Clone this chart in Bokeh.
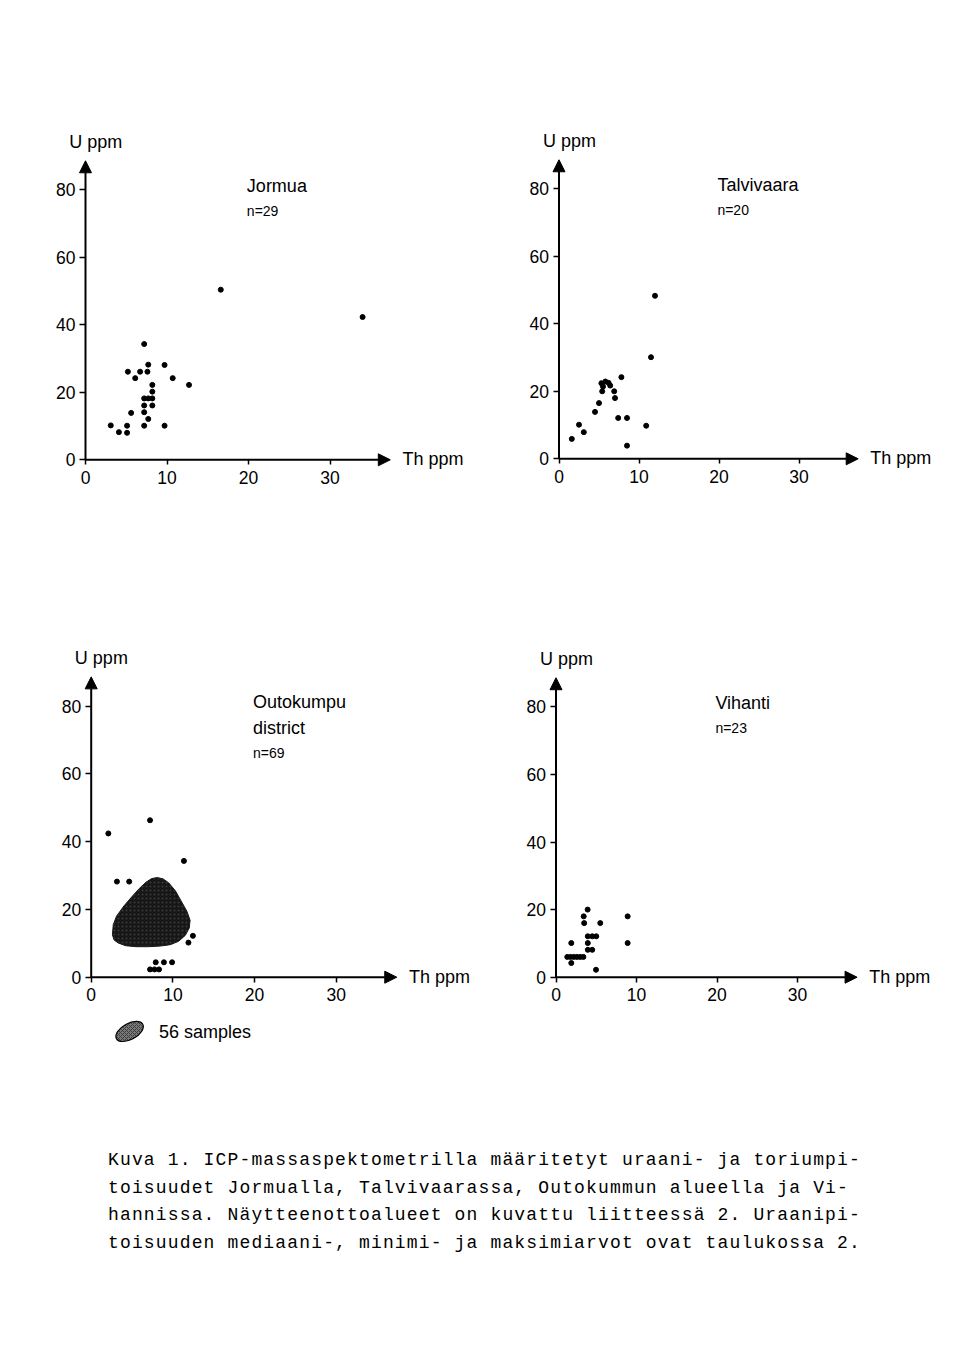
from bokeh.plotting import figure
from bokeh.layouts import column, row
from bokeh.models import Arrow, NormalHead, Label, FixedTicker, Div
from bokeh.embed import file_html
from bokeh.resources import INLINE

# ---------------- data ----------------
jormua_th = [3.1, 4.1, 5.1, 5.1, 5.6, 5.2, 6.1, 6.7, 7.2, 7.7, 7.6, 8.2, 8.2, 7.2, 7.7,
             8.2, 7.2, 8.2, 7.2, 7.7, 7.2, 9.7, 10.7, 12.7, 9.7, 16.6, 34.0]
jormua_u = [10.2, 8.2, 10.1, 8.0, 13.9, 26.1, 24.2, 26.1, 34.3, 28.2, 26.1, 22.2, 20.2, 18.2, 18.2,
            18.2, 16.1, 16.1, 14.1, 12.1, 10.1, 28.1, 24.2, 22.2, 10.1, 50.4, 42.3]

talvi_th = [1.6, 2.5, 3.1, 4.5, 5.0, 5.4, 5.3, 5.8, 6.2, 6.4, 5.5, 6.9, 7.0, 7.8, 7.4,
            8.5, 10.9, 8.5, 12.0, 11.5]
talvi_u = [5.9, 10.1, 7.9, 13.9, 16.5, 20.0, 22.4, 22.9, 22.5, 21.7, 21.4, 20.0, 18.0, 24.2, 12.1,
           12.1, 9.8, 3.9, 48.3, 30.1]

outo_th = [2.1, 7.2, 11.35, 3.15, 4.65, 12.45, 11.9, 7.9, 8.9, 9.9, 7.2, 7.75, 8.3]
outo_u = [42.4, 46.3, 34.3, 28.2, 28.2, 12.2, 10.2, 4.4, 4.4, 4.4, 2.3, 2.3, 2.3]

# outline of the shaded field holding 56 Outokumpu samples
blob_th = [2.6, 2.7, 3.1, 4.0, 5.0, 5.9, 6.7, 7.4, 8.1, 8.8, 9.5, 10.3, 11.0, 11.7, 12.1,
           12.0, 11.5, 10.7, 9.7, 8.5, 7.0, 5.5, 4.2, 3.3, 2.8]
blob_u = [12.5, 15.5, 18.0, 21.0, 23.8, 26.2, 28.0, 29.1, 29.4, 29.0, 27.8, 25.5, 22.5, 19.5, 16.8,
          14.5, 12.3, 10.6, 9.6, 9.2, 9.0, 9.0, 9.3, 10.1, 11.0]

vihanti_th = [3.93, 3.44, 8.9, 3.5, 5.5, 3.95, 4.5, 5.0, 1.9, 3.95, 8.9, 3.95, 4.5,
              1.4, 1.8, 2.2, 2.6, 3.0, 3.4, 1.9, 4.97]
vihanti_u = [20.0, 18.0, 18.0, 16.0, 16.0, 12.1, 12.1, 12.1, 10.1, 10.1, 10.1, 8.1, 8.1,
             6.0, 6.0, 6.0, 6.0, 6.0, 6.0, 4.2, 2.2]

x_ticks = [0, 10, 20, 30]
y_ticks = [0, 20, 40, 60, 80]

caption_lines = [
    "Kuva 1. ICP-massaspektometrilla määritetyt uraani- ja toriumpi-",
    "toisuudet Jormualla, Talvivaarassa, Outokummun alueella ja Vi-",
    "hannissa. Näytteenottoalueet on kuvattu liitteessä 2. Uraanipi-",
    "toisuuden mediaani-, minimi- ja maksimiarvot ovat taulukossa 2.",
]

# ---------------- styling / layout ----------------
FONT = "Liberation Sans"
AX_X_END = 37.4
AX_Y_END = 88.6


def style_axis(ax, ticks, bounds, tick_out, standoff):
    ax.fixed_location = 0
    ax.bounds = bounds
    ax.ticker = FixedTicker(ticks=ticks)
    ax.axis_line_color = None
    ax.major_tick_line_color = "black"
    ax.major_tick_line_width = 1.5
    ax.major_tick_out = tick_out
    ax.major_tick_in = 0
    ax.minor_tick_line_color = None
    ax.major_label_text_font = FONT
    ax.major_label_text_font_size = "17.5px"
    ax.major_label_text_color = "black"
    ax.major_label_standoff = standoff


def make_panel(width, height, origin, scale, names, n_text, th, u):
    ox, oy = origin
    sx, sy = scale
    x0 = -ox / sx
    x1 = x0 + width / sx
    y1 = oy / sy
    y0 = y1 - height / sy
    p = figure(width=width, height=height, x_range=(x0, x1), y_range=(y0, y1),
               output_backend="svg", toolbar_location=None, tools="", min_border=0)
    p.title.visible = False
    p.outline_line_color = None
    p.xgrid.visible = False
    p.ygrid.visible = False
    p.background_fill_color = "white"
    p.border_fill_color = "white"

    style_axis(p.xaxis[0], x_ticks, (0, 36), 5, 6)
    style_axis(p.yaxis[0], y_ticks, (0, 86), 6, 4)

    p.add_layout(Arrow(end=NormalHead(size=12, fill_color="black", line_color="black", line_width=1),
                       x_start=0, y_start=0, x_end=AX_X_END, y_end=0,
                       line_color="black", line_width=2))
    p.add_layout(Arrow(end=NormalHead(size=12, fill_color="black", line_color="black", line_width=1),
                       x_start=0, y_start=0, x_end=0, y_end=AX_Y_END,
                       line_color="black", line_width=2))

    p.add_layout(Label(x=-2.0, y=94.2, text="U ppm", text_font=FONT, text_font_size="18px",
                       text_baseline="middle", text_align="left", text_color="black"))
    p.add_layout(Label(x=AX_X_END + 1.5, y=0.2, text="Th ppm", text_font=FONT, text_font_size="18px",
                       text_baseline="middle", text_align="left", text_color="black"))

    for i, nm in enumerate(names):
        p.add_layout(Label(x=19.8, y=81.2, y_offset=-26.5 * i, text=nm, text_font=FONT,
                           text_font_size="18px", text_baseline="middle", text_align="left",
                           text_color="black"))
    p.add_layout(Label(x=19.8, y=81.2, y_offset=-(26.5 * (len(names) - 1) + 25), text=n_text,
                       text_font=FONT, text_font_size="14px", text_baseline="middle",
                       text_align="left", text_color="black"))

    p.scatter(th, u, size=5, color="black", marker="circle")
    return p


p1 = make_panel(472, 552, (85, 459.3), (8.15, 3.375), ["Jormua"], "n=29", jormua_th, jormua_u)
p2 = make_panel(472, 552, (86.5, 458.3), (8.0, 3.375), ["Talvivaara"], "n=20", talvi_th, talvi_u)
p3 = make_panel(472, 520, (90.7, 424.7), (8.17, 3.39), ["Outokumpu", "district"], "n=69", outo_th, outo_u)
p4 = make_panel(472, 520, (83.5, 424.7), (8.05, 3.38), ["Vihanti"], "n=23", vihanti_th, vihanti_u)

# shaded field + its key in the Outokumpu panel
p3.patch(blob_th, blob_u, fill_color="#161616", line_color="#161616", line_width=1,
         hatch_pattern="dot", hatch_color="#5e5e5e", hatch_scale=4, hatch_alpha=0.5)
p3.ellipse(x=[4.7], y=[-16.0], width=30, height=16, angle=0.5,
           width_units="screen", height_units="screen",
           fill_color="#7a7a7a", line_color="black", line_width=1.2,
           hatch_pattern="diagonal_cross", hatch_color="#3c3c3c", hatch_scale=4)
p3.add_layout(Label(x=8.3, y=-16.2, text="56 samples", text_font=FONT, text_font_size="18px",
                    text_baseline="middle", text_align="left", text_color="black"))

caption_html = (
    '<div style="margin-left:103px;margin-top:70px;font-family:\'Liberation Mono\',monospace;'
    'font-size:18px;letter-spacing:1.15px;line-height:27.5px;color:black;white-space:nowrap;">'
    + "<br>".join(caption_lines) + "</div>"
)
caption = Div(text=caption_html, width=944, height=200)

layout = column(row(p1, p2), row(p3, p4), caption)

with open("out.html", "w") as f:
    f.write(file_html(layout, INLINE))
